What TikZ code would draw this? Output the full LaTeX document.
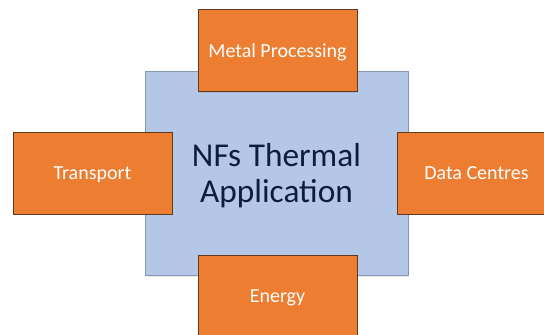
\documentclass[tikz,border=0pt]{standalone}
\usepackage{fontspec}
\setmainfont{Carlito}
\usetikzlibrary{shadows}
\definecolor{appblue}{HTML}{B4C7E7}
\definecolor{appline}{HTML}{8497B0}
\definecolor{apporange}{HTML}{ED7D31}
\definecolor{orangeline}{HTML}{5E3A1E}
\definecolor{apptext}{HTML}{0F1D3A}
\begin{document}
\begin{tikzpicture}[x=0.75pt,y=-0.75pt]
    \tikzstyle{hub}=[draw=appline,fill=appblue,shape=rectangle,minimum width=197.25pt,minimum height=153pt,
      font=\fontsize{25}{26.5}\selectfont,text=apptext,align=center,text depth=0pt,
      drop shadow={opacity=0.15,shadow xshift=0.6pt,shadow yshift=-1.2pt}];
    \tikzstyle{field}=[draw=orangeline,fill=apporange,shape=rectangle,minimum width=119.25pt,minimum height=61.5pt,
      font=\fontsize{15}{17}\selectfont,text=white,text depth=0pt,
      drop shadow={opacity=0.2,shadow xshift=0.6pt,shadow yshift=-0.8pt}];
    \useasboundingbox (0,0) rectangle (544,335);
    \clip (0,0) rectangle (544,335);
    \node at (276.5, 173) (nfs) [hub] {NFs Thermal\\Application};
    \node at (277.5, 50.5) (metal) [field] {Metal Processing};
    \node at (92.5, 173) (transport) [field] {Transport};
    \node at (476.5, 173) (data) [field] {Data Centres};
    \node at (277.5, 296) (energy) [field] {Energy};
\end{tikzpicture}
\end{document}
